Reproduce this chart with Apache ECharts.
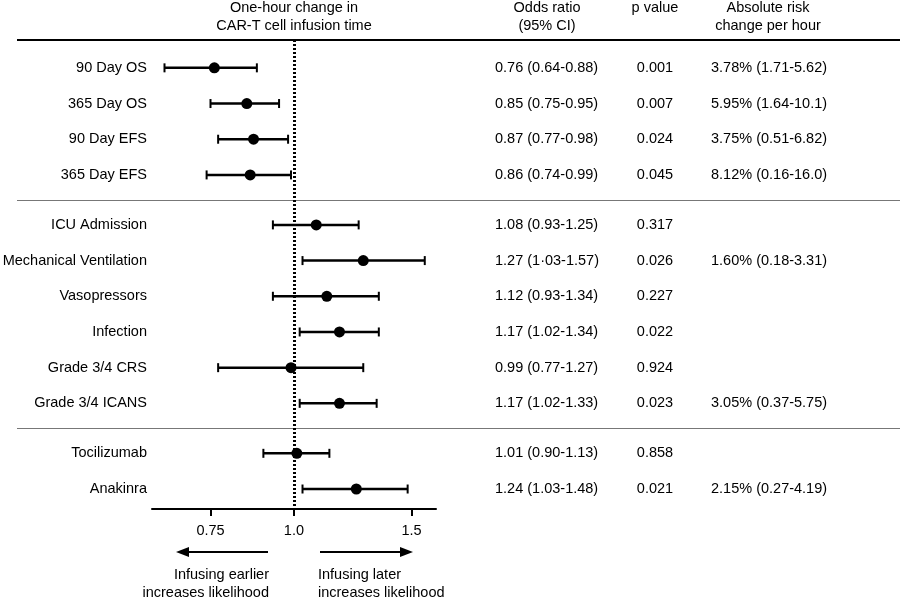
<!DOCTYPE html>
<html>
<head>
<meta charset="utf-8">
<script src="https://cdn.jsdelivr.net/npm/echarts@6/dist/echarts.min.js"></script>
<style>html,body{margin:0;padding:0;background:#fff}#main{width:900px;height:600px}</style>
</head>
<body>
<div id="main"></div>
<script>
// rows, top to bottom
var labels = ['90 Day OS', '365 Day OS', '90 Day EFS', '365 Day EFS',
  'ICU Admission', 'Mechanical Ventilation', 'Vasopressors', 'Infection', 'Grade 3/4 CRS', 'Grade 3/4 ICANS',
  'Tocilizumab', 'Anakinra'];
var groups = [0, 0, 0, 0, 1, 1, 1, 1, 1, 1, 2, 2];
var oddsRatio = [0.76, 0.85, 0.87, 0.86, 1.08, 1.27, 1.12, 1.17, 0.99, 1.17, 1.01, 1.24];
var ciLow = [0.64, 0.75, 0.77, 0.74, 0.93, 1.03, 0.93, 1.02, 0.77, 1.02, 0.90, 1.03];
var ciHigh = [0.88, 0.95, 0.98, 0.99, 1.25, 1.57, 1.34, 1.34, 1.27, 1.33, 1.13, 1.48];
var orText = ['0.76 (0.64-0.88)', '0.85 (0.75-0.95)', '0.87 (0.77-0.98)', '0.86 (0.74-0.99)',
  '1.08 (0.93-1.25)', '1.27 (1\u00b703-1.57)', '1.12 (0.93-1.34)', '1.17 (1.02-1.34)', '0.99 (0.77-1.27)', '1.17 (1.02-1.33)',
  '1.01 (0.90-1.13)', '1.24 (1.03-1.48)'];
var pValues = ['0.001', '0.007', '0.024', '0.045', '0.317', '0.026', '0.227', '0.022', '0.924', '0.023', '0.858', '0.021'];
var riskText = ['3.78% (1.71-5.62)', '5.95% (1.64-10.1)', '3.75% (0.51-6.82)', '8.12% (0.16-16.0)',
  '', '1.60% (0.18-3.31)', '', '', '', '3.05% (0.37-5.75)', '', '2.15% (0.27-4.19)'];
var xTicks = [0.75, 1.0, 1.5];
var xTickLabels = ['0.75', '1.0', '1.5'];

var FONT = '"Liberation Sans", Arial, Helvetica, sans-serif';
var FS = 14.5;
var GAP = 0.4; // extra space between groups (in row units)

var rowPos = labels.map(function (d, i) { return i + groups[i] * GAP; });
// separators sit halfway between groups
var sepPos = [];
for (var i = 1; i < labels.length; i++) {
  if (groups[i] !== groups[i - 1]) sepPos.push((rowPos[i] + rowPos[i - 1]) / 2);
}

var Y_MIN = -0.78, Y_MAX = 12.36;
var TOP = 40, HEIGHT = 469;

function yAx(k) {
  return { type: 'value', gridIndex: k, inverse: true, min: Y_MIN, max: Y_MAX, show: false };
}
function xAx(k) {
  return { type: 'value', gridIndex: k, min: 0, max: 1, show: false };
}
function textSeries(k, texts, x, pos) {
  return {
    type: 'scatter', xAxisIndex: k, yAxisIndex: k, symbolSize: 0, silent: true,
    itemStyle: { opacity: 1 },
    data: texts.map(function (t, i) { return [x, rowPos[i], t]; }),
    label: {
      show: true, position: pos, distance: 0, color: '#000', fontFamily: FONT, fontSize: FS,
      formatter: function (p) { return p.data[2]; }
    }
  };
}

var grids = [
  { left: 152, width: 284, top: TOP, height: HEIGHT },
  { left: 0, width: 147, top: TOP, height: HEIGHT },
  { left: 495, width: 100, top: TOP, height: HEIGHT },
  { left: 605, width: 100, top: TOP, height: HEIGHT },
  { left: 711, width: 150, top: TOP, height: HEIGHT }
];

var option = {
  backgroundColor: '#fff',
  animation: false,
  grid: grids,
  xAxis: [
    {
      type: 'log', gridIndex: 0, min: 0.613, max: 1.632,
      axisLine: { onZero: false, lineStyle: { color: '#000', width: 2 } },
      axisTick: { customValues: xTicks, length: 7, lineStyle: { color: '#000', width: 2 } },
      axisLabel: {
        customValues: xTicks, margin: 14, color: '#000', fontFamily: FONT, fontSize: FS,
        formatter: function (v) { return xTickLabels[xTicks.indexOf(+v)] || ''; }
      },
      splitLine: { show: false }, minorTick: { show: false }
    },
    xAx(1), xAx(2), xAx(3), xAx(4)
  ],
  yAxis: [yAx(0), yAx(1), yAx(2), yAx(3), yAx(4)],
  series: [
    {
      type: 'custom', name: 'ci', xAxisIndex: 0, yAxisIndex: 0, silent: true,
      data: labels.map(function (d, i) { return [ciLow[i], ciHigh[i], rowPos[i]]; }),
      encode: { x: [0, 1], y: 2 },
      renderItem: function (params, api) {
        var a = api.coord([api.value(0), api.value(2)]);
        var b = api.coord([api.value(1), api.value(2)]);
        var cap = 4.5;
        var capStyle = { stroke: '#000', lineWidth: 2 };
        return {
          type: 'group',
          children: [
            { type: 'line', shape: { x1: a[0], y1: a[1], x2: b[0], y2: b[1] }, style: { stroke: '#000', lineWidth: 2.5 } },
            { type: 'line', shape: { x1: a[0], y1: a[1] - cap, x2: a[0], y2: a[1] + cap }, style: capStyle },
            { type: 'line', shape: { x1: b[0], y1: b[1] - cap, x2: b[0], y2: b[1] + cap }, style: capStyle }
          ]
        };
      }
    },
    {
      type: 'scatter', name: 'or', xAxisIndex: 0, yAxisIndex: 0, silent: true,
      symbol: 'circle', symbolSize: 11, itemStyle: { color: '#000', opacity: 1 }, z: 3,
      data: labels.map(function (d, i) { return [oddsRatio[i], rowPos[i]]; }),
      markLine: {
        silent: true, symbol: 'none', label: { show: false },
        lineStyle: { color: '#000', width: 3, type: [2, 2], opacity: 1 },
        data: [{ xAxis: 1 }]
      }
    },
    textSeries(1, labels, 1, 'left'),
    textSeries(2, orText, 0, 'right'),
    textSeries(3, pValues, 0.5, 'inside'),
    textSeries(4, riskText, 0, 'right')
  ]
};

var chart = echarts.init(document.getElementById('main'));
chart.setOption(option);

function txt(x, y, s, align) {
  return { type: 'text', x: x, y: y, silent: true,
    style: { text: s, fill: '#000', font: FS + 'px ' + FONT, textAlign: align || 'center', textVerticalAlign: 'middle' } };
}
function hline(x1, x2, y, color, w) {
  return { type: 'line', silent: true, shape: { x1: x1, y1: y, x2: x2, y2: y }, style: { stroke: color, lineWidth: w } };
}

var graphics = [
  hline(17, 900, TOP, '#000', 2),
  txt(294, 8, 'One-hour change in'), txt(294, 25.5, 'CAR-T cell infusion time'),
  txt(547, 8, 'Odds ratio'), txt(547, 25.5, '(95% CI)'),
  txt(655, 8, 'p value'),
  txt(768, 8, 'Absolute risk'), txt(768, 25.5, 'change per hour'),
  // direction arrows
  { type: 'line', silent: true, shape: { x1: 268, y1: 552, x2: 186, y2: 552 }, style: { stroke: '#000', lineWidth: 2 } },
  { type: 'polygon', silent: true, shape: { points: [[176, 552], [189, 547], [189, 557]] }, style: { fill: '#000' } },
  { type: 'line', silent: true, shape: { x1: 320, y1: 552, x2: 402, y2: 552 }, style: { stroke: '#000', lineWidth: 2 } },
  { type: 'polygon', silent: true, shape: { points: [[413, 552], [400, 547], [400, 557]] }, style: { fill: '#000' } },
  txt(269, 575, 'Infusing earlier', 'right'), txt(269, 593, 'increases likelihood', 'right'),
  txt(318, 575, 'Infusing later', 'left'), txt(318, 593, 'increases likelihood', 'left')
];
sepPos.forEach(function (p) {
  var y = Math.round(chart.convertToPixel({ gridIndex: 0 }, [1, p])[1]) + 0.5;
  graphics.push(hline(17, 900, y, '#777', 1.2));
});
chart.setOption({ graphic: graphics });
window.addEventListener('resize', function () { chart.resize(); });
</script>
</body>
</html>
